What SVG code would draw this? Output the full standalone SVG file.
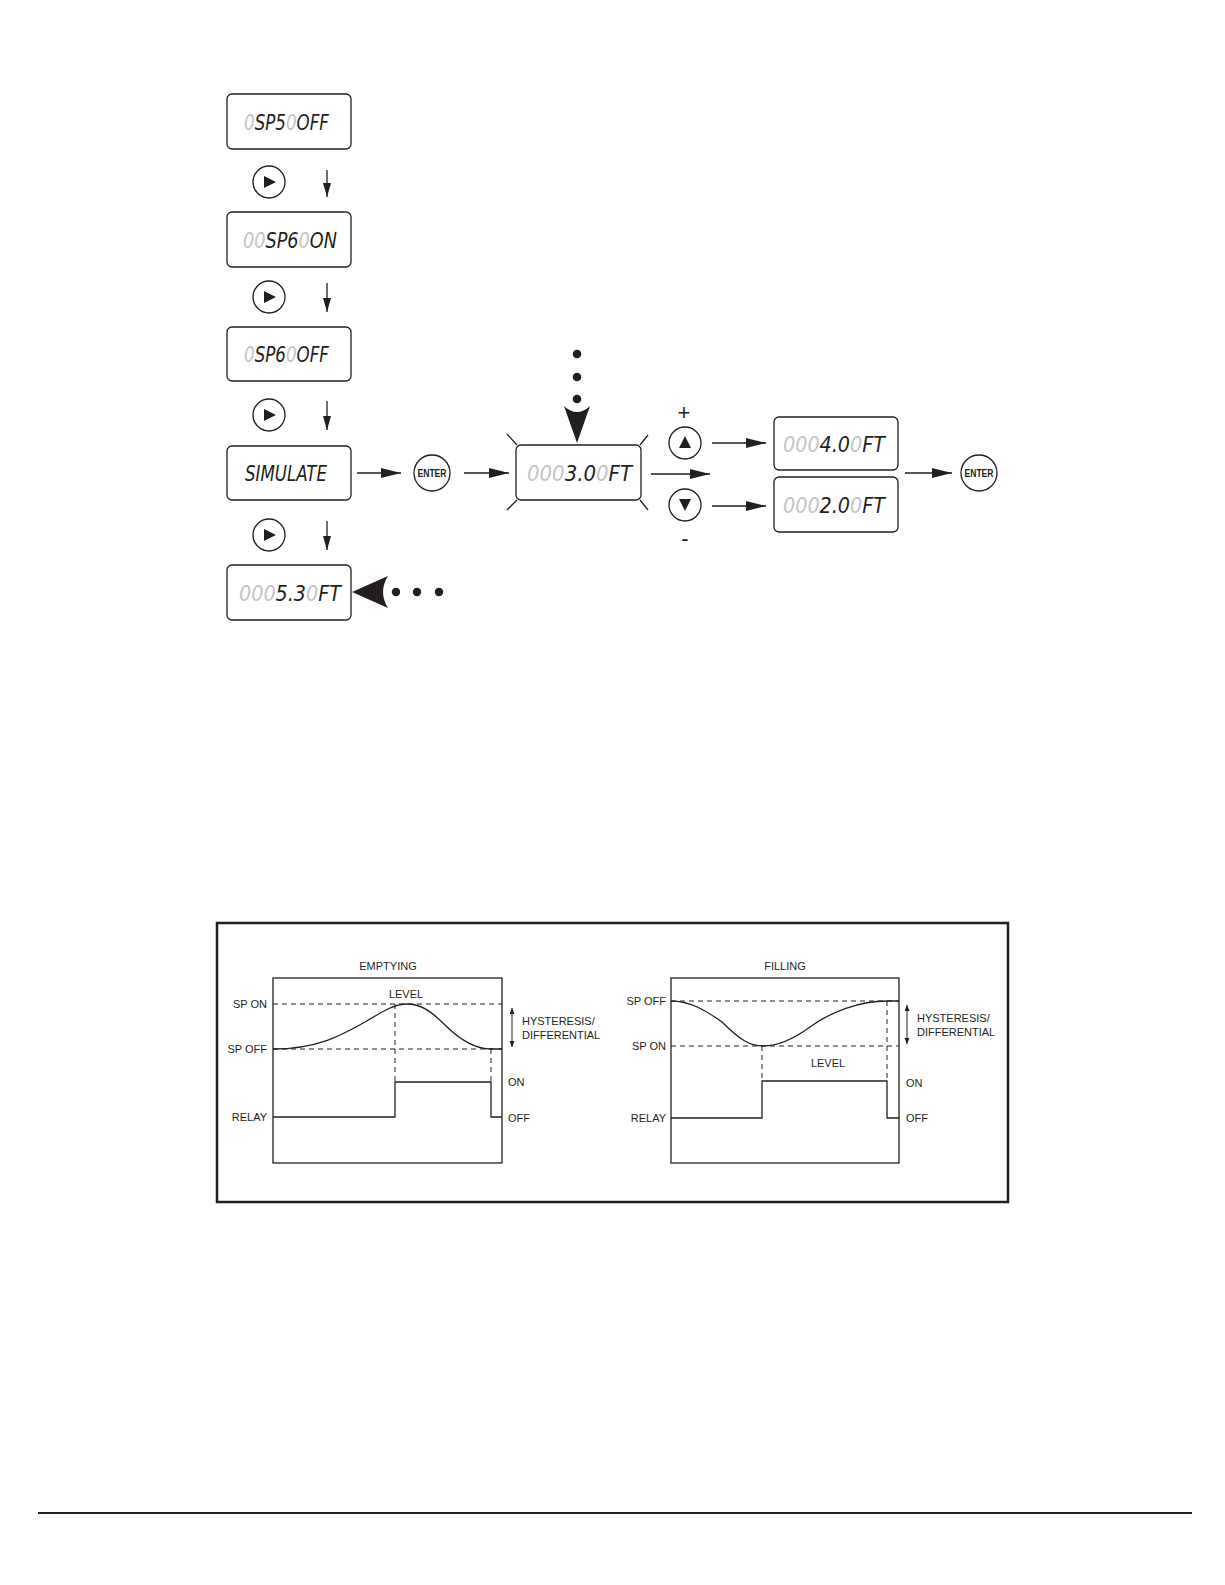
<svg xmlns="http://www.w3.org/2000/svg" width="1225" height="1585" viewBox="0 0 1225 1585">
<style>
.box{fill:#fff;stroke:#231f20;stroke-width:1.3}
.lcd{font-family:"DejaVu Sans Condensed","DejaVu Sans",sans-serif;font-style:italic;font-size:22px;fill:#231f20}
.dim{fill:#c4c4c4}
.btn{fill:#fff;stroke:#231f20;stroke-width:1.3}
.ln{fill:none;stroke:#231f20;stroke-width:1.3}
.ent{font-family:"Liberation Sans Narrow","Liberation Sans",Arial,sans-serif;font-weight:bold;font-size:11px;fill:#231f20;text-anchor:middle}
.lbl{font-family:"Liberation Sans",Arial,sans-serif;font-size:11px;fill:#231f20}
.ch{fill:none;stroke:#231f20;stroke-width:1.3}
.dash{fill:none;stroke:#231f20;stroke-width:1;stroke-dasharray:5,4}
.dot{fill:#231f20}
.sign{font-family:"Liberation Sans",Arial,sans-serif;font-size:22px;fill:#231f20;text-anchor:middle}
</style>
<defs>
<marker id="ah" markerUnits="userSpaceOnUse" markerWidth="22" markerHeight="12" refX="20" refY="5" orient="auto">
<path d="M0,0 L20,5 L0,10 z" fill="#231f20"/>
</marker>
<marker id="av" markerUnits="userSpaceOnUse" markerWidth="16" markerHeight="10" refX="14" refY="4" orient="auto">
<path d="M0,0 L14,4 L0,8 z" fill="#231f20"/>
</marker>
<marker id="hs" markerUnits="userSpaceOnUse" markerWidth="8" markerHeight="6" refX="6" refY="2.5" orient="auto-start-reverse">
<path d="M0,0 L6,2.5 L0,5 z" fill="#231f20"/>
</marker>
</defs>

<g id="lcd-sp5-off">
<rect class="box" x="227" y="94" width="124" height="55" rx="5"/>
<text class="lcd" x="244" y="129.5" textLength="85" lengthAdjust="spacingAndGlyphs"><tspan class="dim">0</tspan>SP5<tspan class="dim">0</tspan>OFF</text>
</g>
<g id="lcd-sp6-on">
<rect class="box" x="227" y="212" width="124" height="55" rx="5"/>
<text class="lcd" x="243" y="247.5" textLength="94" lengthAdjust="spacingAndGlyphs"><tspan class="dim">00</tspan>SP6<tspan class="dim">0</tspan>ON</text>
</g>
<g id="lcd-sp6-off">
<rect class="box" x="227" y="327" width="124" height="54" rx="5"/>
<text class="lcd" x="244" y="362" textLength="85" lengthAdjust="spacingAndGlyphs"><tspan class="dim">0</tspan>SP6<tspan class="dim">0</tspan>OFF</text>
</g>
<g id="lcd-simulate">
<rect class="box" x="227" y="446" width="124" height="54" rx="5"/>
<text class="lcd" x="245" y="481" textLength="82" lengthAdjust="spacingAndGlyphs">SIMULATE</text>
</g>
<g id="lcd-5-3">
<rect class="box" x="227" y="565" width="124" height="55" rx="5"/>
<text class="lcd" x="239" y="600.5" textLength="102" lengthAdjust="spacingAndGlyphs"><tspan class="dim">000</tspan>5.3<tspan class="dim">0</tspan>FT</text>
</g>

<g id="btn-right-1"><circle class="btn" cx="269" cy="182" r="16"/><path d="M264,176 L276,182 L264,188 z" fill="#231f20"/></g>
<g id="btn-right-2"><circle class="btn" cx="269" cy="297" r="16"/><path d="M264,291 L276,297 L264,303 z" fill="#231f20"/></g>
<g id="btn-right-3"><circle class="btn" cx="269" cy="415" r="16"/><path d="M264,409 L276,415 L264,421 z" fill="#231f20"/></g>
<g id="btn-right-4"><circle class="btn" cx="269" cy="535" r="16"/><path d="M264,529 L276,535 L264,541 z" fill="#231f20"/></g>

<g id="btn-enter-1"><circle class="btn" cx="432" cy="473" r="18"/><text class="ent" x="432" y="477" textLength="29" lengthAdjust="spacingAndGlyphs">ENTER</text></g>

<g id="lcd-3-0">
<path class="ln" d="M507,434 L517,445 M648,435 L640,445 M507,510 L517,500 M648,510 L640,500"/>
<rect class="box" x="516" y="445" width="125" height="55" rx="5"/>
<text class="lcd" x="527" y="480.5" textLength="105" lengthAdjust="spacingAndGlyphs"><tspan class="dim">000</tspan>3.0<tspan class="dim">0</tspan>FT</text>
</g>

<g id="btn-up"><text class="sign" x="684" y="420">+</text><circle class="btn" cx="685" cy="443" r="16"/><path d="M679,448 L685,436 L691,448 z" fill="#231f20"/></g>
<g id="btn-down"><circle class="btn" cx="685" cy="505" r="16"/><path d="M679,499 L685,511 L691,499 z" fill="#231f20"/><text class="sign" x="685" y="546">-</text></g>

<g id="lcd-4-0">
<rect class="box" x="774" y="417" width="124" height="53" rx="5"/>
<text class="lcd" x="783" y="451.5" textLength="102" lengthAdjust="spacingAndGlyphs"><tspan class="dim">000</tspan>4.0<tspan class="dim">0</tspan>FT</text>
</g>
<g id="lcd-2-0">
<rect class="box" x="774" y="477" width="124" height="55" rx="5"/>
<text class="lcd" x="783" y="512.5" textLength="102" lengthAdjust="spacingAndGlyphs"><tspan class="dim">000</tspan>2.0<tspan class="dim">0</tspan>FT</text>
</g>
<g id="btn-enter-2"><circle class="btn" cx="979" cy="473" r="18"/><text class="ent" x="979" y="477" textLength="29" lengthAdjust="spacingAndGlyphs">ENTER</text></g>

<g id="connectors">
<line class="ln" x1="327" y1="170" x2="327" y2="197" marker-end="url(#av)"/>
<line class="ln" x1="327" y1="283" x2="327" y2="312" marker-end="url(#av)"/>
<line class="ln" x1="327" y1="401" x2="327" y2="430" marker-end="url(#av)"/>
<line class="ln" x1="327" y1="521" x2="327" y2="550" marker-end="url(#av)"/>
<line class="ln" x1="357" y1="473" x2="401" y2="473" marker-end="url(#ah)"/>
<line class="ln" x1="464" y1="473" x2="509" y2="473" marker-end="url(#ah)"/>
<line class="ln" x1="651" y1="474" x2="710" y2="474" marker-end="url(#ah)"/>
<line class="ln" x1="712" y1="443" x2="766" y2="443" marker-end="url(#ah)"/>
<line class="ln" x1="712" y1="506" x2="766" y2="506" marker-end="url(#ah)"/>
<line class="ln" x1="905" y1="473" x2="952" y2="473" marker-end="url(#ah)"/>
<path d="M352,592 L388,576 Q378,592 388,608 z" fill="#231f20"/>
<circle class="dot" cx="396" cy="592" r="4.2"/>
<circle class="dot" cx="417" cy="592" r="4.2"/>
<circle class="dot" cx="439" cy="592" r="4.2"/>
<path d="M577,443 L564,406 Q577,418 590,406 z" fill="#231f20"/>
<circle class="dot" cx="577" cy="354" r="4.3"/>
<circle class="dot" cx="577" cy="377" r="4.3"/>
<circle class="dot" cx="577" cy="399" r="4.3"/>
</g>

<g id="chart">
<rect x="217" y="923" width="791" height="279" fill="none" stroke="#231f20" stroke-width="2.5"/>

<g id="emptying">
<text class="lbl" x="388" y="970" text-anchor="middle">EMPTYING</text>
<rect class="ch" x="273" y="978" width="229" height="185"/>
<line class="dash" x1="273" y1="1004" x2="502" y2="1004"/>
<line class="dash" x1="273" y1="1049" x2="502" y2="1049"/>
<line class="dash" x1="395" y1="1004" x2="395" y2="1082"/>
<line class="dash" x1="491" y1="1049" x2="491" y2="1082"/>
<path class="ch" d="M273,1049 C320,1049 345,1033 365,1022 C385,1010 395,1004 407,1004 C420,1004 430,1010 445,1025 C460,1040 475,1049 491,1049 L502,1049"/>
<path class="ch" d="M273,1117 L395,1117 L395,1082 L491,1082 L491,1117 L502,1117"/>
<text class="lbl" x="406" y="998" text-anchor="middle">LEVEL</text>
<text class="lbl" x="267" y="1008" text-anchor="end">SP ON</text>
<text class="lbl" x="267" y="1053" text-anchor="end">SP OFF</text>
<text class="lbl" x="267" y="1121" text-anchor="end">RELAY</text>
<line x1="512" y1="1008" x2="512" y2="1047" stroke="#231f20" stroke-width="1" marker-start="url(#hs)" marker-end="url(#hs)"/>
<text class="lbl" x="522" y="1025">HYSTERESIS/</text>
<text class="lbl" x="522" y="1039">DIFFERENTIAL</text>
<text class="lbl" x="508" y="1086">ON</text>
<text class="lbl" x="508" y="1122">OFF</text>
</g>

<g id="filling">
<text class="lbl" x="785" y="970" text-anchor="middle">FILLING</text>
<rect class="ch" x="671" y="978" width="228" height="185"/>
<line class="dash" x1="671" y1="1001" x2="899" y2="1001"/>
<line class="dash" x1="671" y1="1046" x2="899" y2="1046"/>
<line class="dash" x1="762" y1="1046" x2="762" y2="1081"/>
<line class="dash" x1="887" y1="1001" x2="887" y2="1081"/>
<path class="ch" d="M671,1001 C690,1001 705,1010 722,1022 C740,1040 750,1046 763,1046 C780,1046 795,1038 810,1027 C830,1012 860,1001 887,1001 L899,1001"/>
<path class="ch" d="M671,1118 L762,1118 L762,1081 L887,1081 L887,1118 L899,1118"/>
<text class="lbl" x="828" y="1067" text-anchor="middle">LEVEL</text>
<text class="lbl" x="666" y="1005" text-anchor="end">SP OFF</text>
<text class="lbl" x="666" y="1050" text-anchor="end">SP ON</text>
<text class="lbl" x="666" y="1122" text-anchor="end">RELAY</text>
<line x1="907" y1="1005" x2="907" y2="1044" stroke="#231f20" stroke-width="1" marker-start="url(#hs)" marker-end="url(#hs)"/>
<text class="lbl" x="917" y="1022">HYSTERESIS/</text>
<text class="lbl" x="917" y="1036">DIFFERENTIAL</text>
<text class="lbl" x="906" y="1087">ON</text>
<text class="lbl" x="906" y="1122">OFF</text>
</g>
</g>

<line x1="38" y1="1513" x2="1192" y2="1513" stroke="#231f20" stroke-width="2"/>
</svg>
